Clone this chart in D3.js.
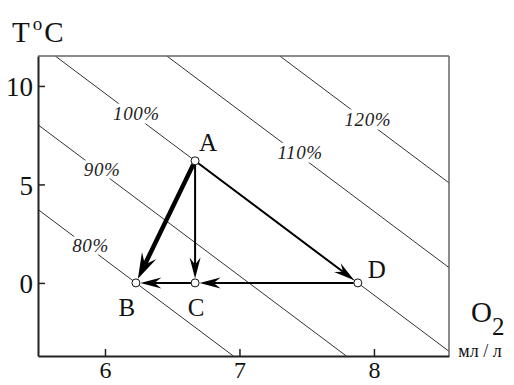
<!DOCTYPE html>
<html>
<head>
<meta charset="utf-8">
<script src="https://cdn.jsdelivr.net/npm/d3@7"></script>
<style>
  html, body { margin: 0; padding: 0; background: #fff; }
  svg { display: block; }
  text { font-family: "Liberation Serif", "Times New Roman", serif; fill: #111; }
</style>
</head>
<body>
<svg id="chart" width="514" height="385"></svg>
<script>
// Axis ticks
const xTicks = [6, 7, 8];
const yTicks = [0, 5, 10];

// State points: dissolved O2 (mg/L) and temperature (°C)
const pointNames = ["A", "B", "C", "D"];
const pointO2 = [6.67, 6.23, 6.67, 7.88];
const pointT = [6.2, 0, 0, 0];

// Saturation isolines: O2 at T = 0 and common slope (°C per mg/L)
const satLabels = ["80%", "90%", "100%", "110%", "120%"];
const satO2AtZero = [6.23, 7.07, 7.88, 8.71, 9.55];
const isoSlope = -5.12;
const satLabelT = [1.88, 5.74, 8.58, 6.6, 8.32];

// Transitions between states [from, to, heavy]
const arrowFrom = ["A", "A", "A", "D", "C"];
const arrowTo = ["B", "C", "D", "C", "B"];
const arrowHeavy = [true, false, false, false, false];

const svg = d3.select("#chart");
const plot = { left: 38, right: 449, top: 56, bottom: 356 };

const x = d3.scaleLinear().domain([5.502, 8.558]).range([plot.left, plot.right]);
const y = d3.scaleLinear().domain([-3.71, 11.52]).range([plot.bottom, plot.top]);

svg.append("defs").append("clipPath").attr("id", "plotClip")
  .append("rect")
  .attr("x", plot.left).attr("y", plot.top)
  .attr("width", plot.right - plot.left).attr("height", plot.bottom - plot.top);

// Isolines
const tLo = y.domain()[0], tHi = y.domain()[1];
const iso = svg.append("g").attr("clip-path", "url(#plotClip)");
satO2AtZero.forEach(o0 => {
  const oAt = t => o0 + t / isoSlope;
  iso.append("line")
    .attr("x1", x(oAt(tHi))).attr("y1", y(tHi))
    .attr("x2", x(oAt(tLo))).attr("y2", y(tLo))
    .attr("stroke", "#333").attr("stroke-width", 1);
});

// Isoline labels (white halo breaks the line)
satLabels.forEach((lab, i) => {
  const t = satLabelT[i];
  const o = satO2AtZero[i] + t / isoSlope;
  svg.append("text")
    .attr("x", x(o) + 4).attr("y", y(t))
    .attr("text-anchor", "middle").attr("dominant-baseline", "central")
    .attr("font-style", "italic").attr("font-size", 19)
    .attr("letter-spacing", 0.6)
    .attr("stroke", "#fff").attr("stroke-width", 7).attr("paint-order", "stroke")
    .style("fill", "#222")
    .text(lab);
});

// Frame: top and right borders
svg.append("line").attr("x1", plot.left).attr("x2", plot.right)
  .attr("y1", plot.top).attr("y2", plot.top)
  .attr("stroke", "#666").attr("stroke-width", 1.5);
svg.append("line").attr("x1", plot.right).attr("x2", plot.right)
  .attr("y1", plot.top).attr("y2", plot.bottom)
  .attr("stroke", "#666").attr("stroke-width", 1.5);

// Axes with inward ticks
const xAxis = svg.append("g").attr("transform", `translate(0,${plot.bottom})`)
  .call(d3.axisBottom(x).tickValues(xTicks).tickFormat(d3.format("d"))
    .tickSizeInner(-7).tickSizeOuter(0).tickPadding(5));
const yAxis = svg.append("g").attr("transform", `translate(${plot.left},0)`)
  .call(d3.axisLeft(y).tickValues(yTicks).tickFormat(d3.format("d"))
    .tickSizeInner(-7).tickSizeOuter(0).tickPadding(5));
[xAxis, yAxis].forEach(g => {
  g.select(".domain").attr("stroke", "#222").attr("stroke-width", 2);
  g.selectAll(".tick line").attr("stroke", "#222").attr("stroke-width", 1.5);
  g.selectAll(".tick text")
    .attr("font-family", "Liberation Serif, serif")
    .style("fill", "#111");
});
yAxis.selectAll(".tick text").attr("font-size", 27).attr("dy", "0.36em");
xAxis.selectAll(".tick text").attr("font-size", 24).attr("dy", "0.72em");

// Arrows
const idx = name => pointNames.indexOf(name);
const r = 4;
const arrows = svg.append("g");
arrowFrom.forEach((f, i) => {
  const a = idx(f), b = idx(arrowTo[i]);
  const x1 = x(pointO2[a]), y1 = y(pointT[a]);
  const x2 = x(pointO2[b]), y2 = y(pointT[b]);
  const ang = Math.atan2(y2 - y1, x2 - x1);
  const tipX = x2 - Math.cos(ang) * (r + 0.5), tipY = y2 - Math.sin(ang) * (r + 0.5);
  const heavy = arrowHeavy[i];
  const len = heavy ? 26 : 21, half = heavy ? 8 : 5.5, notch = heavy ? 16 : 14;
  arrows.append("line")
    .attr("x1", x1 + Math.cos(ang) * r).attr("y1", y1 + Math.sin(ang) * r)
    .attr("x2", tipX - Math.cos(ang) * notch).attr("y2", tipY - Math.sin(ang) * notch)
    .attr("stroke", "#000").attr("stroke-width", heavy ? 4.5 : 2);
  arrows.append("path")
    .attr("d", `M0,0L${-len},${-half}L${-notch},0L${-len},${half}Z`)
    .attr("transform", `translate(${tipX},${tipY}) rotate(${ang * 180 / Math.PI})`)
    .attr("fill", "#000");
});

// State points
svg.append("g").selectAll("circle").data(pointNames).join("circle")
  .attr("cx", (d, i) => x(pointO2[i])).attr("cy", (d, i) => y(pointT[i]))
  .attr("r", r).attr("fill", "#fff").attr("stroke", "#111").attr("stroke-width", 1);

// State labels
const labelDx = [13, -9, 1, 19];
const labelDy = [-10, 33, 33, -5];
pointNames.forEach((n, i) => {
  svg.append("text")
    .attr("x", x(pointO2[i]) + labelDx[i]).attr("y", y(pointT[i]) + labelDy[i])
    .attr("text-anchor", "middle").attr("font-size", 25)
    .text(n);
});

// Axis titles
const tTitle = svg.append("text").attr("x", 12).attr("y", 42).attr("font-size", 29);
tTitle.append("tspan").text("T");
tTitle.append("tspan").attr("font-size", 19).attr("dx", 3).attr("dy", -12).text("o");
tTitle.append("tspan").attr("dy", 12).attr("dx", 2).text("C");

const oTitle = svg.append("text").attr("x", 471).attr("y", 322).attr("font-size", 29);
oTitle.append("tspan").text("O");
oTitle.append("tspan").attr("font-size", 25).attr("dy", 13).text("2");
svg.append("text").attr("x", 480).attr("y", 357)
  .attr("text-anchor", "middle").attr("font-size", 18)
  .text("мл / л");
</script>
</body>
</html>
